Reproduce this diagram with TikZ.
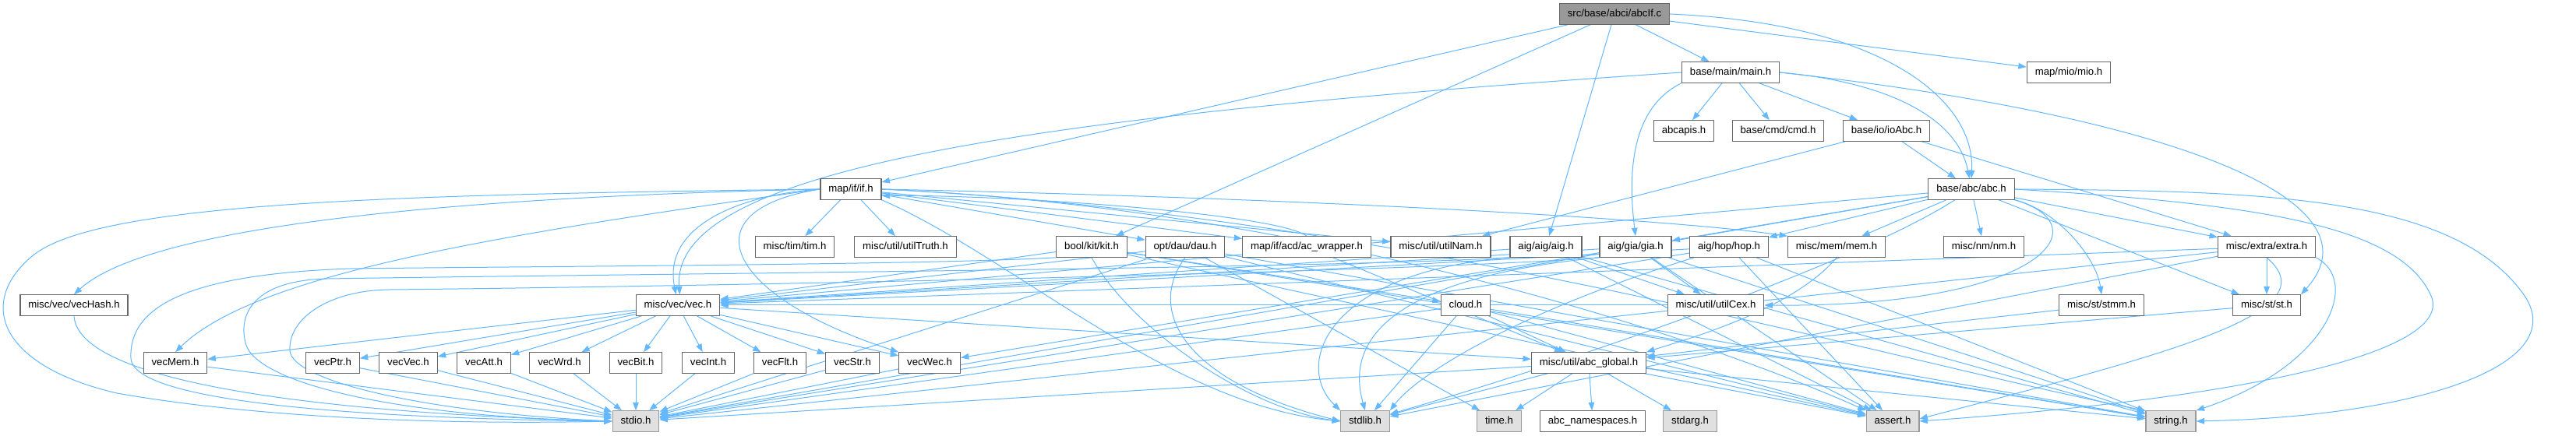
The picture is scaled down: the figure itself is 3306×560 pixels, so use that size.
\documentclass[tikz,border=0pt]{standalone}
\usepackage{fontspec}
\setmainfont{Liberation Sans}
\usetikzlibrary{arrows.meta,backgrounds}
\definecolor{edgeblue}{HTML}{63B8FF}
\definecolor{boxline}{HTML}{666666}
\definecolor{sysline}{HTML}{999999}
\definecolor{sysfill}{HTML}{E0E0E0}
\definecolor{rootfill}{HTML}{999999}
\tikzset{
  hdr/.style={draw=boxline, fill=white, line width=0.6pt, minimum height=13.2pt,
    inner xsep=5.2pt, inner ysep=0pt, text height=4.9pt, text depth=1.3pt,
    font=\fontsize{6.6pt}{8pt}\selectfont},
  syshdr/.style={hdr, draw=sysline, fill=sysfill},
  roothdr/.style={hdr, fill=rootfill},
  dep/.style={draw=edgeblue, line width=0.5pt, -{Triangle[length=5.2pt,width=3.8pt]}}
}
\begin{document}
\begin{tikzpicture}[x=0.5pt,y=-0.5pt]
\useasboundingbox (0,0) rectangle (3306,560);

% files, row by row
\node[roothdr] (root) at (2072,18) {src/base/abci/abcIf.c};

\node[hdr] (main) at (2221,93) {base/main/main.h};
\node[hdr] (mio) at (2655,93) {map/mio/mio.h};

\node[hdr] (abcapis) at (2161,168) {abcapis.h};
\node[hdr] (cmd) at (2282,168) {base/cmd/cmd.h};
\node[hdr] (ioabc) at (2421,168) {base/io/ioAbc.h};

\node[hdr] (ifh) at (1092,243) {map/if/if.h};
\node[hdr] (abch) at (2530,243) {base/abc/abc.h};

\node[hdr] (tim) at (1020,317) {misc/tim/tim.h};
\node[hdr] (truth) at (1162,317) {misc/util/utilTruth.h};
\node[hdr] (kit) at (1401,317) {bool/kit/kit.h};
\node[hdr] (dau) at (1521,317) {opt/dau/dau.h};
\node[hdr] (acw) at (1677,317) {map/if/acd/ac\_wrapper.h};
\node[hdr] (nam) at (1849,317) {misc/util/utilNam.h};
\node[hdr] (aig) at (1984,317) {aig/aig/aig.h};
\node[hdr] (gia) at (2099,317) {aig/gia/gia.h};
\node[hdr] (hop) at (2219,317) {aig/hop/hop.h};
\node[hdr] (mem) at (2357,317) {misc/mem/mem.h};
\node[hdr] (nm) at (2546,317) {misc/nm/nm.h};
\node[hdr] (extra) at (2909,317) {misc/extra/extra.h};

\node[hdr] (vechash) at (95,392) {misc/vec/vecHash.h};
\node[hdr] (vec) at (870,392) {misc/vec/vec.h};
\node[hdr] (cloud) at (1881,392) {cloud.h};
\node[hdr] (cex) at (2202,392) {misc/util/utilCex.h};
\node[hdr] (stmm) at (2697,392) {misc/st/stmm.h};
\node[hdr] (st) at (2909,392) {misc/st/st.h};

\node[hdr] (vecmem) at (225,466) {vecMem.h};
\node[hdr] (vecptr) at (427,466) {vecPtr.h};
\node[hdr] (vecvec) at (524,466) {vecVec.h};
\node[hdr] (vecatt) at (621,466) {vecAtt.h};
\node[hdr] (vecwrd) at (718,466) {vecWrd.h};
\node[hdr] (vecbit) at (816,466) {vecBit.h};
\node[hdr] (vecint) at (909,466) {vecInt.h};
\node[hdr] (vecflt) at (1001,466) {vecFlt.h};
\node[hdr] (vecstr) at (1094,466) {vecStr.h};
\node[hdr] (vecwec) at (1193,466) {vecWec.h};
\node[hdr] (global) at (2039,466) {misc/util/abc\_global.h};

\node[syshdr] (stdio) at (816,541) {stdio.h};
\node[syshdr] (stdlib) at (1752,541) {stdlib.h};
\node[syshdr] (time) at (1924,541) {time.h};
\node[hdr] (ns) at (2044,541) {abc\_namespaces.h};
\node[syshdr] (stdarg) at (2169,541) {stdarg.h};
\node[syshdr] (assert) at (2429,541) {assert.h};
\node[syshdr] (string) at (2786,541) {string.h};

\begin{pgfonlayer}{background}
\fill[white] (0,0) rectangle (3306,560);

% abcIf.c
\draw[dep] (root) -- (ifh);
\draw[dep] (root) -- (kit);
\draw[dep] (root) -- (aig);
\draw[dep] (root) -- (main);
\draw[dep] (root.east) .. controls (2420,30) and (2535,130) .. (abch.north);
\draw[dep] (root) -- (mio);

% main.h
\draw[dep] (main) -- (abcapis);
\draw[dep] (main) -- (cmd);
\draw[dep] (main) -- (ioabc);
\draw[dep] (main.east) .. controls (2420,105) and (2512,150) .. (abch.100);
\draw[dep] (main.south west) .. controls (2090,140) and (2090,230) .. (gia.north);
\draw[dep] (main.east) .. controls (2800,150) and (3060,260) .. (st.north east);
\draw[dep] (main.west) .. controls (1300,150) and (860,220) .. (vec.80);

% ioAbc.h
\draw[dep] (ioabc) -- (abch);
\draw[dep] (ioabc) -- (nam);
\draw[dep] (ioabc) -- (extra);

% abc.h
\draw[dep] (abch) -- (vec);
\draw[dep] (abch) -- (hop);
\draw[dep] (abch) -- (gia);
\draw[dep] (abch) -- (mem);
\draw[dep] (abch) -- (nm);
\draw[dep] (abch.south east) .. controls (2700,290) and (2620,395) .. (cex.east);
\draw[dep] (abch) -- (st);
\draw[dep] (abch.south east) .. controls (2640,270) and (2690,330) .. (stmm.north);
\draw[dep] (abch) -- (extra);
\draw[dep] (abch) -- (stdio);
\draw[dep] (abch) .. controls (2380,340) and (2000,470) .. (stdlib);
\draw[dep] (abch.east) .. controls (2900,245) and (3150,250) .. (3240,380)
  .. controls (3300,470) and (3100,535) .. (string.east);
\draw[dep] (abch.east) .. controls (2900,262) and (3080,290) .. (3120,380)
  .. controls (3150,450) and (2900,510) .. (assert.east);

% if.h
\draw[dep] (ifh) -- (tim);
\draw[dep] (ifh) -- (truth);
\draw[dep] (ifh) -- (dau);
\draw[dep] (ifh) -- (acw);
\draw[dep] (ifh) -- (nam);
\draw[dep] (ifh.east) .. controls (1700,255) and (2150,282) .. (mem.north west);
\draw[dep] (ifh.west) .. controls (950,250) and (850,290) .. (vec.100);
\draw[dep] (ifh.west) .. controls (500,255) and (180,300) .. (vechash.north);
\draw[dep] (ifh.west) .. controls (650,300) and (330,350) .. (vecmem.north);
\draw[dep] (ifh.west) .. controls (880,270) and (930,380) .. (vecwec.north west);
\draw[dep] (ifh.west) .. controls (500,250) and (120,260) .. (40,330)
  .. controls (-30,390) and (0,470) .. (150,505)
  .. controls (350,540) and (600,545) .. (stdio.west);
\draw[dep] (ifh.south east) .. controls (1300,330) and (1500,520) .. (stdlib.west);
\draw[dep] (ifh.east) .. controls (1800,275) and (2450,470) .. (string.north west);
\draw[dep] (ifh.east) .. controls (1700,268) and (2200,440) .. (assert.north west);

% ac_wrapper.h
\draw[dep] (acw.north) .. controls (1640,275) and (1300,250) .. (ifh.-12);
\draw[dep] (acw) -- (global);

% dau.h
\draw[dep] (dau) -- (vec);
\draw[dep] (dau) -- (stdio);
\draw[dep] (dau.south) .. controls (1470,400) and (1520,490) .. (stdlib.west);
\draw[dep] (dau) -- (time);
\draw[dep] (dau) -- (string);
\draw[dep] (dau) -- (assert);

% kit.h
\draw[dep] (kit) -- (vec);
\draw[dep] (kit) -- (cloud);
\draw[dep] (kit.south west) .. controls (1200,340) and (700,342) .. (450,345)
  .. controls (250,352) and (165,390) .. (168,460)
  .. controls (170,520) and (500,538) .. (stdio.west);
\draw[dep] (kit.south) .. controls (1450,420) and (1600,525) .. (stdlib.west);
\draw[dep] (kit) -- (string);
\draw[dep] (kit) -- (assert);

% cloud.h
\draw[dep] (cloud) -- (global);
\draw[dep] (cloud) -- (stdio);
\draw[dep] (cloud) -- (stdlib);
\draw[dep] (cloud) -- (string);
\draw[dep] (cloud) -- (assert);

% aig.h
\draw[dep] (aig) -- (vec);
\draw[dep] (aig) -- (cex);
\draw[dep] (aig.south west) .. controls (1700,345) and (800,352) .. (420,358)
  .. controls (330,360) and (305,400) .. (315,440)
  .. controls (325,490) and (500,535) .. (stdio.west);
\draw[dep] (aig.south west) .. controls (1700,350) and (1660,470) .. (stdlib.north west);
\draw[dep] (aig) -- (string);
\draw[dep] (aig) -- (assert);

% gia.h
\draw[dep] (gia) -- (vec);
\draw[dep] (gia) -- (vecwec);
\draw[dep] (gia) -- (cex);
\draw[dep] (gia.south west) .. controls (1800,350) and (900,368) .. (500,372)
  .. controls (420,373) and (370,410) .. (372,450)
  .. controls (374,490) and (550,530) .. (stdio.west);
\draw[dep] (gia.south west) .. controls (1760,360) and (1730,450) .. (stdlib.north);
\draw[dep] (gia) -- (string);
\draw[dep] (gia) -- (assert);

% hop.h
\draw[dep] (hop) -- (vec);
\draw[dep] (hop) -- (stdio);
\draw[dep] (hop) .. controls (1950,400) and (1820,480) .. (stdlib.north east);
\draw[dep] (hop) -- (string);
\draw[dep] (hop) -- (assert);

% mem.h, extra.h, utilCex.h, st.h, stmm.h
\draw[dep] (mem.south) .. controls (2300,400) and (2150,440) .. (global.north east);
\draw[dep] (extra) -- (st);
\draw[dep] (extra) -- (vec);
\draw[dep] (extra) -- (stdio);
\draw[dep] (extra) -- (stdlib);
\draw[dep] (extra.south east) .. controls (3030,360) and (2990,470) .. (string.north east);
\draw[dep] (extra.south) .. controls (2990,400) and (2800,450) .. (assert.5);
\draw[dep] (cex) -- (vec);
\draw[dep] (st) -- (global);
\draw[dep] (stmm) -- (global);

% vec.h and the vec headers
\foreach \v in {vecmem,vecptr,vecvec,vecatt,vecwrd,vecbit,vecint,vecflt,vecstr,vecwec,global}
  \draw[dep] (vec) -- (\v);
\foreach \v in {vecmem,vecptr,vecvec,vecatt,vecwrd,vecbit,vecint,vecflt,vecstr,vecwec}
  \draw[dep] (\v) -- (stdio);
\draw[dep] (vechash.south) .. controls (100,490) and (400,530) .. (stdio.west);

% abc_global.h
\foreach \v in {stdio,stdlib,time,ns,stdarg,assert,string}
  \draw[dep] (global) -- (\v);
\end{pgfonlayer}
\end{tikzpicture}
\end{document}
